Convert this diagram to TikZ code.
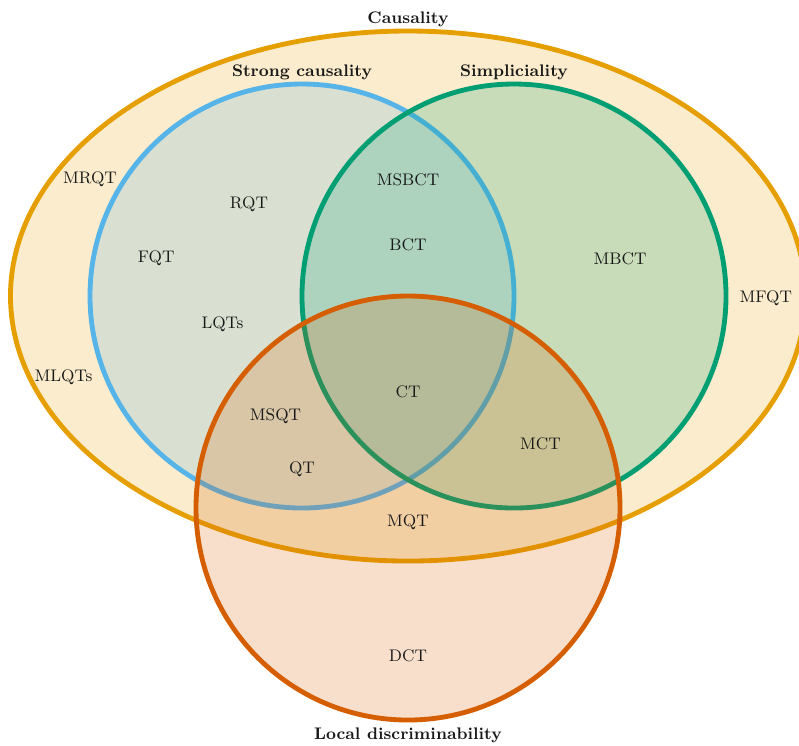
\documentclass[tikz,border=0pt]{standalone}
\usetikzlibrary{shapes.geometric}

% Okabe-Ito palette
\definecolor{oiorange}{HTML}{E69F00}
\definecolor{oisky}{HTML}{56B4E9}
\definecolor{oigreen}{HTML}{009E73}
\definecolor{oiverm}{HTML}{D55E00}

\tikzset{
  setshape/.style={draw=#1, fill=#1, fill opacity=0.2, draw opacity=1,
    line width=2.6pt, inner sep=0pt, outer sep=0pt},
  setcircle/.style={setshape=#1, circle, minimum size=8cm},
  setname/.style={font=\small\bfseries, text=black!90, inner sep=3pt, yshift=-1.1pt},
  region/.style={font=\small, text=black!90, yshift=-1.1pt}
}

\begin{document}
\begin{tikzpicture}
\useasboundingbox (-7.698,-8.472) rectangle (7.377,5.585);

% the four sets
\node[setshape=oiorange, ellipse, minimum width=15cm, minimum height=10cm] (causal) at (0,0) {};
\node[setcircle=oisky]   (strong) at (-2,0) {};
\node[setcircle=oigreen] (simpl)  at (2,0)  {};
\node[setcircle=oiverm]  (local)  at (0,-4) {};

% set names
\node[setname, anchor=south] (tcausal) at (causal.north) {Causality};
\node[setname, anchor=south] (tstrong) at (strong.north) {Strong causality};
\node[setname, anchor=south] (tsimpl)  at (simpl.north)  {Simpliciality};
\node[setname, anchor=north] (tlocal)  at (local.south)  {Local discriminability};

% regions
\node[region] (mrqt)  at (-6,2.25)    {MRQT};
\node[region] (rqt)   at (-3,1.77)    {RQT};
\node[region] (fqt)   at (-4.75,0.75) {FQT};
\node[region] (lqts)  at (-3.5,-0.5)  {LQTs};
\node[region] (mlqts) at (-6.5,-1.5)  {MLQTs};
\node[region] (msbct) at (0,2.23)     {MSBCT};
\node[region] (bct)   at (0,1)        {BCT};
\node[region] (mbct)  at (4,0.75)     {MBCT};
\node[region] (mfqt)  at (6.75,0)     {MFQT};
\node[region] (ct)    at (0,-1.77)    {CT};
\node[region] (msqt)  at (-2.5,-2.23) {MSQT};
\node[region] (qt)    at (-2,-3.23)   {QT};
\node[region] (mct)   at (2.5,-2.75)  {MCT};
\node[region] (mqt)   at (0,-4.23)    {MQT};
\node[region] (dct)   at (0,-6.75)    {DCT};
\end{tikzpicture}
\end{document}
